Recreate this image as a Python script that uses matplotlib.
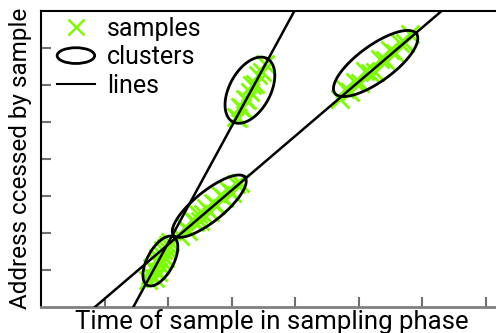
import numpy as np
import matplotlib
matplotlib.use("Agg")
import matplotlib.pyplot as plt
from matplotlib.patches import Ellipse
from matplotlib.lines import Line2D
from matplotlib.legend_handler import HandlerPatch

plt.rcParams['font.family'] = ['Roboto', 'DejaVu Sans']

# samples per cluster (time, address)
c1_x = [1.72, 1.75, 1.80, 1.83, 1.84, 1.87, 1.91, 1.92, 1.95, 1.97, 2.00, 1.80, 1.84, 1.89, 2.03, 1.69]
c1_y = [0.86, 1.05, 1.00, 1.21, 1.32, 1.13, 1.40, 1.54, 1.32, 1.59, 1.67, 0.78, 0.94, 1.27, 1.75, 0.73]
c2_x = [2.19, 2.27, 2.32, 2.38, 2.43, 2.47, 2.50, 2.55, 2.60, 2.66, 2.71, 2.76, 2.82, 2.88, 2.95, 3.01, 3.07, 3.13]
c2_y = [1.91, 2.16, 2.06, 2.35, 2.28, 2.51, 2.32, 2.52, 2.67, 2.57, 2.80, 2.74, 3.02, 2.95, 3.17, 3.07, 3.33, 3.34]
c3_x = [3.07, 3.10, 3.13, 3.17, 3.21, 3.24, 3.29, 3.32, 3.37, 3.42, 3.48, 3.53]
c3_y = [5.12, 5.11, 5.40, 5.36, 5.62, 5.59, 5.81, 6.00, 6.01, 6.26, 6.33, 6.56]
c4_x = [4.71, 4.79, 4.87, 4.95, 5.02, 5.10, 5.18, 5.26, 5.34, 5.42, 5.50, 5.58, 5.65, 5.73, 5.81]
c4_y = [5.62, 5.87, 5.80, 6.07, 6.05, 6.36, 6.31, 6.35, 6.68, 6.66, 6.93, 6.86, 7.11, 7.12, 7.37]

# cluster centres and ellipse shape (semi axes in pixels, angle in degrees on screen)
cl_cx = [1.88, 2.65, 3.29, 5.27]
cl_cy = [1.24, 2.72, 5.85, 6.57]
cl_a = [27.5, 46, 36, 50.5]
cl_b = [13.1, 15, 20.5, 18]
cl_ang = [61.5, 39, 61.5, 36]

# fitted lines: x where address is 0, and slope
line_x0 = [1.454, 0.850]
line_slope = [3.149, 1.463]

green = '#7cfc00'

fig = plt.figure(figsize=(4.96, 3.33), dpi=100)
W, H = 496, 333
ax = fig.add_axes([41 / W, 26 / H, 455 / W, 296.5 / H])
ax.set_xlim(0, 455 / 63.5)
ax.set_ylim(0, 8)

for xs, ys in [(c1_x, c1_y), (c2_x, c2_y), (c3_x, c3_y), (c4_x, c4_y)]:
    ax.plot(xs, ys, 'x', color=green, ms=13, mew=2, zorder=2)

# ellipses drawn in pixel space, converted back to data units
sx = 63.5
sy = 296.5 / 8
t = np.linspace(0, 2 * np.pi, 200)
for cx, cy, a, b, ang in zip(cl_cx, cl_cy, cl_a, cl_b, cl_ang):
    th = np.radians(ang)
    px = a * np.cos(t) * np.cos(th) - b * np.sin(t) * np.sin(th)
    py = a * np.cos(t) * np.sin(th) + b * np.sin(t) * np.cos(th)
    ax.plot(cx + px / sx, cy + py / sy, color='black', lw=2, zorder=3)

yy = np.array([0, 7.95])
for x0, m in zip(line_x0, line_slope):
    ax.plot(x0 + yy / m, yy, color='black', lw=1.8, zorder=3)

ax.set_xticks(range(1, 8))
ax.set_yticks(range(1, 8))
ax.set_xticklabels([])
ax.set_yticklabels([])
ax.tick_params(direction='in', length=7, width=1.5, color='#707070')
ax.spines['right'].set_visible(False)
ax.spines['bottom'].set_color('#808080')
ax.spines['bottom'].set_linewidth(2)
ax.spines['left'].set_linewidth(1.5)
ax.spines['top'].set_linewidth(1.5)

ax.set_xlabel('Time of sample in sampling phase', fontsize=18.5)
ax.xaxis.set_label_coords((272 - 41) / 455, -0.008)
ax.set_ylabel('Address ccessed by sample', fontsize=17.5, labelpad=3)


def make_ellipse(legend, orig_handle, xdescent, ydescent, width, height, fontsize):
    return Ellipse((width / 2 - xdescent, height / 2 - ydescent), width, height * 0.9)


handles = [
    Line2D([], [], ls='none', marker='x', color=green, ms=12, mew=1.8),
    Ellipse((0, 0), 1, 1, facecolor='white', edgecolor='black', lw=2),
    Line2D([], [], color='black', lw=1.5),
]
ax.legend(handles, ['samples', 'clusters', 'lines'],
          handler_map={Ellipse: HandlerPatch(patch_func=make_ellipse)},
          loc='upper left', bbox_to_anchor=(0.03, 0.987), frameon=False,
          fontsize=18, handlelength=1.5, handletextpad=0.5,
          labelspacing=0.18, borderpad=0.1, borderaxespad=0)

fig.savefig('out.png', dpi=100)
